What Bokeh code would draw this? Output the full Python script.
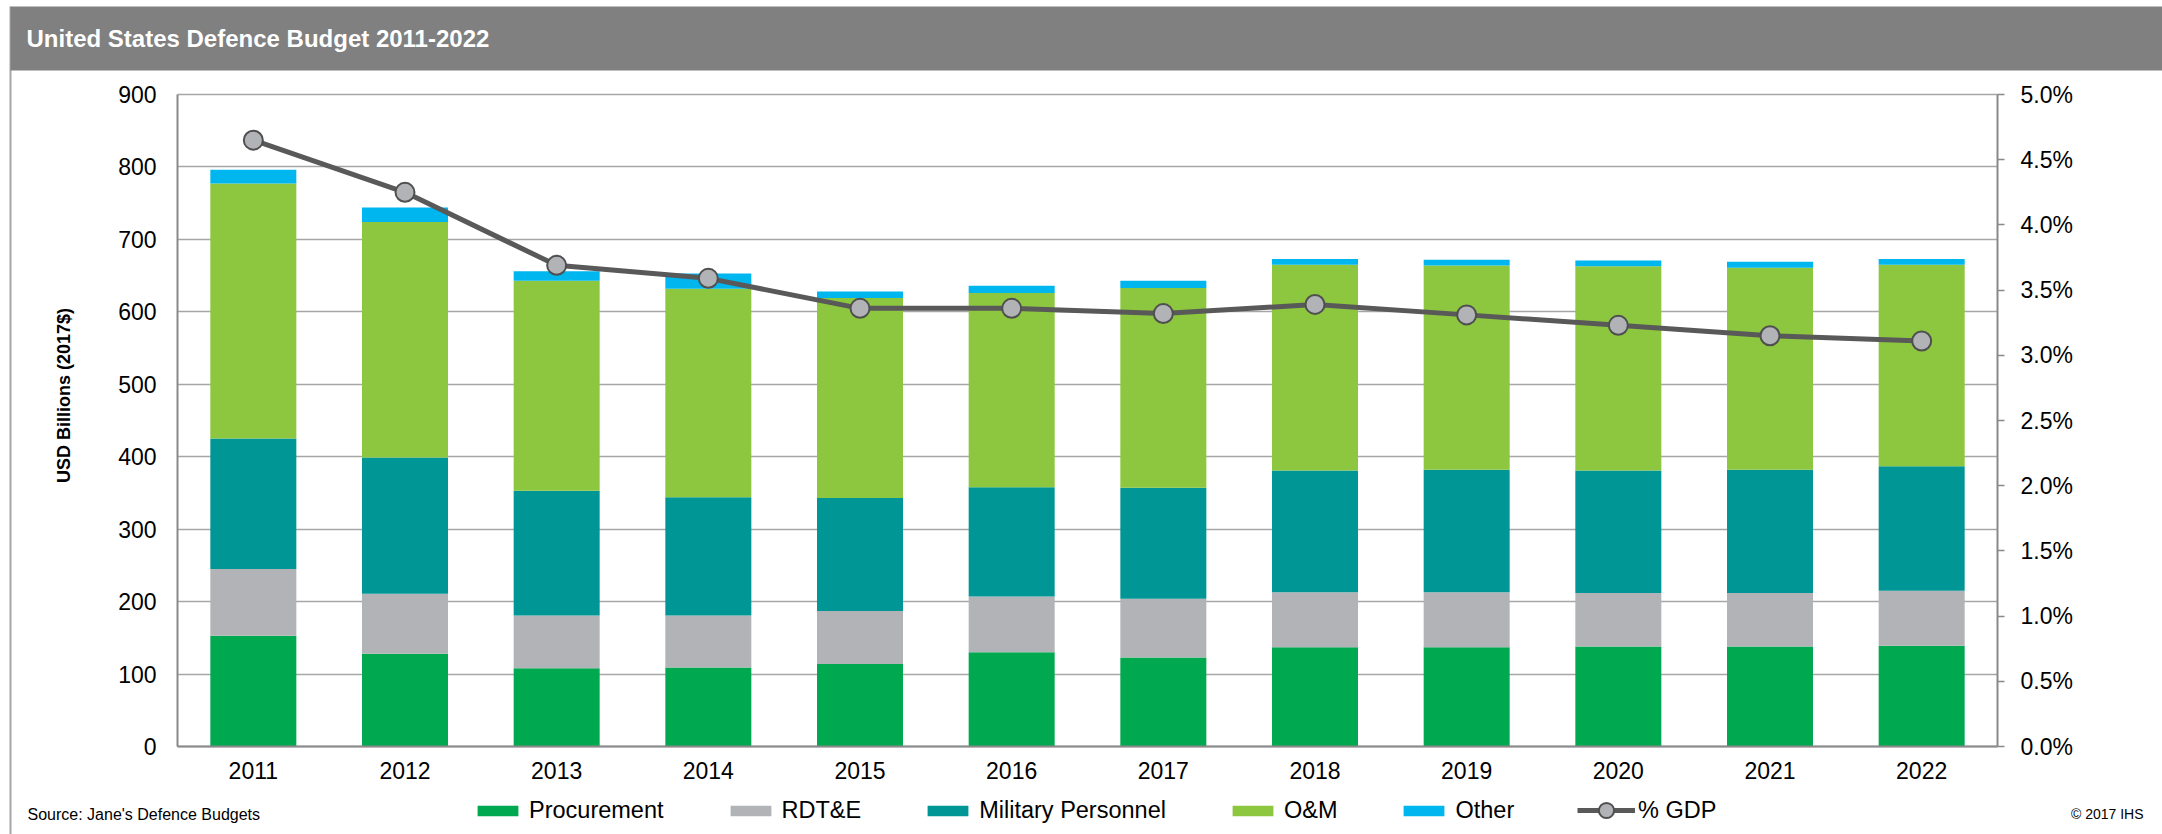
import math
from bokeh.plotting import figure
from bokeh.models import (ColumnDataSource, Range1d, LinearAxis, FixedTicker, Grid,
                          PrintfTickFormatter, NumeralTickFormatter, Legend,
                          LegendItem, Label, BoxAnnotation)
from bokeh.embed import file_html
from bokeh.resources import INLINE

# ---------------- data ----------------
years = [2011, 2012, 2013, 2014, 2015, 2016, 2017, 2018, 2019, 2020, 2021, 2022]
procurement = [153, 128, 108, 109, 114, 130, 123, 137, 137, 138, 138, 139]
rdte = [92, 83, 73, 72, 73, 77, 81, 76, 76, 74, 74, 76]
military_personnel = [180, 188, 172, 163, 156, 151, 153, 168, 169, 169, 170, 172]
om = [352, 325, 290, 288, 276, 268, 276, 284, 282, 282, 279, 278]
other = [19, 20, 13, 21, 9, 10, 10, 8, 8, 8, 8, 8]
gdp_pct = [4.65, 4.25, 3.69, 3.59, 3.36, 3.36, 3.32, 3.39, 3.31, 3.23, 3.15, 3.11]

series_names = ["Procurement", "RDT&E", "Military Personnel", "O&M", "Other"]
series_keys = ["procurement", "rdte", "military_personnel", "om", "other"]
series_colors = ["#00A850", "#B1B3B6", "#009696", "#8DC63F", "#00B6EF"]

left_ticks = [0, 100, 200, 300, 400, 500, 600, 700, 800, 900]
right_ticks = [0.0, 0.5, 1.0, 1.5, 2.0, 2.5, 3.0, 3.5, 4.0, 4.5, 5.0]

title_text = "United States Defence Budget 2011-2022"
y_title = "USD Billions (2017$)"
source_text = "Source: Jane's Defence Budgets"
copyright_text = "\u00a9 2017 IHS"

FONT = "Liberation Sans"

# ---------------- layout constants (pixels) ----------------
W, H = 2162, 834
PL, PR, PT, PB = 177, 1997, 94, 746        # plot area edges

src = ColumnDataSource(dict(year=years, procurement=procurement, rdte=rdte,
                            military_personnel=military_personnel, om=om,
                            other=other, gdp=gdp_pct))

x0_edge = years[0] - 0.5
x1_edge = years[-1] + 0.5
ux = (PR - PL) / (x1_edge - x0_edge)
ymax = left_ticks[-1]
uy = (PB - PT) / ymax
pmax = right_ticks[-1]
up = (PB - PT) / pmax

x_range = Range1d(x0_edge - PL / ux, x1_edge + (W - PR) / ux)
y_range = Range1d(-(H - PB) / uy, ymax + PT / uy)
p_range = Range1d(-(H - PB) / up, pmax + PT / up)

p = figure(width=W, height=H, x_range=x_range, y_range=y_range,
           output_backend="svg", toolbar_location=None, title_location=None,
           x_axis_location=None, y_axis_location=None, min_border=0)
p.extra_y_ranges = {"pct": p_range}
p.outline_line_color = None
p.background_fill_color = "white"
p.border_fill_color = "white"
p.center = [r for r in p.center if not isinstance(r, Grid)]

AX = "#898989"

# frame decorations: left border line and title bar
p.add_layout(BoxAnnotation(left=9, right=11, top=H - 6, bottom=0,
                           left_units="screen", right_units="screen",
                           top_units="screen", bottom_units="screen",
                           fill_color="#a6a6a6", fill_alpha=1, line_color=None))
p.add_layout(BoxAnnotation(left=10, right=W, top=H - 6, bottom=H - 70,
                           left_units="screen", right_units="screen",
                           top_units="screen", bottom_units="screen",
                           fill_color="#808080", fill_alpha=1, line_color=None))
p.add_layout(Label(x=26, y=H - 38, x_units="screen", y_units="screen",
                   text=title_text, text_color="white", text_font=FONT,
                   text_font_size="24px", text_font_style="bold",
                   text_baseline="middle", text_align="left"))

# axes
la = LinearAxis(fixed_location=x0_edge, bounds=(0, ymax),
                ticker=FixedTicker(ticks=left_ticks))
la.axis_line_color = AX
la.axis_line_width = 2
la.major_tick_out = 0
la.major_tick_in = 0
la.minor_tick_line_color = None
la.major_label_standoff = 21
la.major_label_text_font = FONT
la.major_label_text_font_size = "23px"
la.major_label_text_color = "black"
p.add_layout(la, "left")

ra = LinearAxis(y_range_name="pct", fixed_location=x1_edge, bounds=(0, pmax),
                ticker=FixedTicker(ticks=right_ticks),
                formatter=PrintfTickFormatter(format="%.1f%%"))
ra.axis_line_color = AX
ra.axis_line_width = 2
ra.major_tick_line_color = AX
ra.major_tick_line_width = 1.5
ra.major_tick_out = 7
ra.major_tick_in = 0
ra.minor_tick_line_color = None
ra.major_label_standoff = 16
ra.major_label_text_font = FONT
ra.major_label_text_font_size = "23px"
ra.major_label_text_color = "black"
p.add_layout(ra, "right")

ba = LinearAxis(fixed_location=0, bounds=(x0_edge, x1_edge),
                ticker=FixedTicker(ticks=years),
                formatter=NumeralTickFormatter(format="0"))
ba.axis_line_color = AX
ba.axis_line_width = 2
ba.major_tick_line_color = None
ba.major_tick_out = 0
ba.major_tick_in = 0
ba.minor_tick_line_color = None
ba.major_label_standoff = 15
ba.major_label_text_font = FONT
ba.major_label_text_font_size = "23px"
ba.major_label_text_color = "black"
p.add_layout(ba, "below")

# horizontal gridlines limited to the plot area
try:
    g = Grid(dimension=1, ticker=la.ticker, cross_bounds=(x0_edge, x1_edge),
             grid_line_color="#a6a6a6", grid_line_width=1.5)
    p.add_layout(g)
except Exception:
    p.segment(x0=[x0_edge] * len(left_ticks), x1=[x1_edge] * len(left_ticks),
              y0=left_ticks, y1=left_ticks, line_color="#a6a6a6", line_width=1.5,
              level="underlay")

bars = p.vbar_stack(series_keys, x="year", width=0.567, color=series_colors,
                    line_color=None, source=src)
gline = p.line(x="year", y="gdp", y_range_name="pct", line_width=5,
               line_color="#595959", source=src)
gpts = p.scatter(x="year", y="gdp", y_range_name="pct", size=19,
                 fill_color="#B1B3B6", line_color="#4f4f4f", line_width=2,
                 source=src)

# y-axis title
p.add_layout(Label(x=63, y=H - 395, x_units="screen", y_units="screen",
                   text=y_title, angle=math.pi / 2, text_font=FONT,
                   text_font_size="18px", text_font_style="bold",
                   text_align="center", text_baseline="middle", text_color="black"))

# legends
leg1 = Legend(items=[LegendItem(label=n, renderers=[r]) for n, r in zip(series_names, bars)],
              orientation="horizontal", location=(472, 10),
              glyph_width=51, glyph_height=13, label_standoff=6, spacing=61,
              padding=0, margin=0, border_line_color=None,
              background_fill_alpha=0, label_text_font=FONT,
              label_text_font_size="23.5px", label_text_color="black")
leg2 = Legend(items=[LegendItem(label="% GDP", renderers=[gline, gpts])],
              orientation="horizontal", location=(1577, 5),
              glyph_width=58, glyph_height=38, label_standoff=3,
              padding=0, margin=0, border_line_color=None,
              background_fill_alpha=0, label_text_font=FONT,
              label_text_font_size="23.5px", label_text_color="black")
p.add_layout(leg1)
p.add_layout(leg2)

# footnotes
p.add_layout(Label(x=27, y=H - 814, x_units="screen", y_units="screen",
                   text=source_text, text_font=FONT, text_font_size="16px",
                   text_baseline="middle", text_align="left", text_color="black"))
p.add_layout(Label(x=2143, y=H - 813, x_units="screen", y_units="screen",
                   text=copyright_text, text_font=FONT, text_font_size="14px",
                   text_baseline="middle", text_align="right", text_color="black"))

open("out.html", "w").write(file_html(p, INLINE))
